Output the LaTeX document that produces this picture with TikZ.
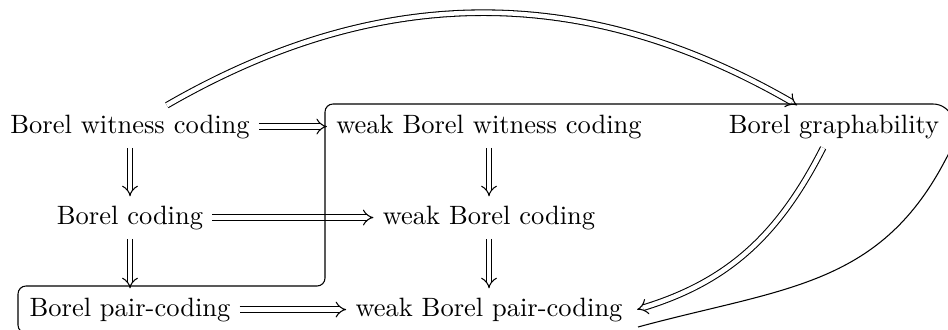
\documentclass[tikz,border=0pt]{standalone}
\usetikzlibrary{arrows.meta}
\begin{document}
\begin{tikzpicture}[x=0.3774pt,y=0.3774pt,
  lbl/.style={anchor=base, inner sep=3.33pt},
  imp/.style={double, double distance=1.7pt, line width=0.4pt, -{Implies}},
  region/.style={rounded corners=3pt, line width=0.4pt}]
\useasboundingbox (0,0) rectangle (948,329);
% nodes
\node[lbl] (bwc)  at (130,196) {Borel witness coding};
\node[lbl] (wbwc) at (489,196) {weak Borel witness coding};
\node[lbl] (bg)   at (834,196) {Borel graphability};
\node[lbl] (bc)   at (130,105) {Borel coding};
\node[lbl] (wbc)  at (489,105) {weak Borel coding};
\node[lbl] (bpc)  at (130,13)  {Borel pair-coding};
\node[lbl] (wbpc) at (489,13)  {weak Borel pair-coding};
% arrows
\draw[imp] (bwc) -- (wbwc);
\draw[imp] (bc) -- (wbc);
\draw[imp] (bpc) -- (wbpc);
\draw[imp] (bwc.south) -- (bwc.south |- bc.north);
\draw[imp] (bc.south) -- (bc.south |- bpc.north);
\draw[imp] (wbwc.south) -- (wbwc.south |- wbc.north);
\draw[imp] (wbc.south) -- (wbc.south |- wbpc.north);
\draw[imp] (bwc) to[bend left=30] (bg);
\draw[imp] (bg) to[out=-117,in=17] ([xshift=2pt]wbpc.east);
% region
\draw[region] (100,-4) -- (18,-4) -- (18,43) -- (325,43) -- (325,225) -- (925,225)
  .. controls (952,225) and (962,200) .. (948,174)
  .. controls (878,42) and (782,41) .. (638,2);
\end{tikzpicture}
\end{document}
